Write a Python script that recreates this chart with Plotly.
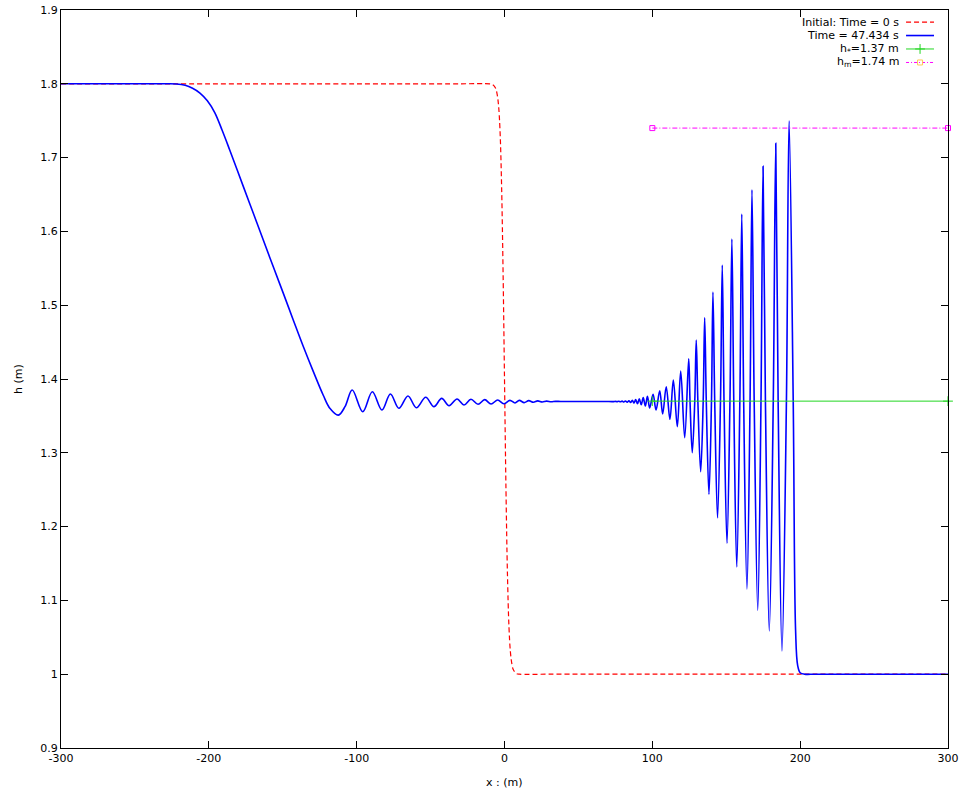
import plotly.graph_objects as go

# ---- data ----
red_x = [-300, -200, -100, -30, -10, -8, -6, -5, -4, -3, -2, -1, 0, 1, 2, 3, 4, 5, 6, 8,
         10, 30, 100, 200, 300]
red_h = [1.8, 1.8, 1.8, 1.8, 1.8, 1.799, 1.794, 1.786, 1.770, 1.735, 1.665, 1.550, 1.400,
         1.250, 1.135, 1.065, 1.030, 1.014, 1.006, 1.001, 1.0, 1.0, 1.0, 1.0, 1.0]

blue_x = [-300, -270, -245, -230, -222, -216, -211, -206, -201, -196,
          -191, -186, -176.7, -169.9, -163.1, -156.4, -149.6, -142.9, -136.1, -129.3,
          -122.6, -118.0, -112.4, -107.9, -103.0, -95.9, -89.4, -82.9, -77.2, -71.4,
          -65.3, -59.6, -53.3, -47.7, -42.5, -37.5, -32.1, -27.4, -22.7, -17.9,
          -13.4, -9.1, -4.6, -0.5, 3.7, 7.1, 10.0, 13.3, 16.4, 19.5,
          22.5, 25.5, 28.5, 31.5, 34.5, 38, 48, 58, 68, 73.8,
          74.95, 76.1, 77.25, 78.4, 79.55, 80.7, 81.85, 83.0, 84.15, 85.3,
          86.45, 87.6, 88.75, 89.95, 91.2, 92.5, 93.85, 95.25, 96.7, 98.2,
          100.5, 102.5, 105.0, 107.0, 109.4, 111.9, 114.2, 116.9, 119.2, 121.9,
          124.6, 125.5, 127.0, 128.7, 129.7, 130.8, 132.7, 134.4, 135.4, 136.5,
          138.3, 140.0, 141.0, 142.2, 144.1, 146.1, 147.3, 148.5, 150.5, 152.5,
          153.8, 155.1, 157.1, 159.2, 160.5, 161.8, 164.0, 166.1, 167.4, 168.9,
          171.3, 173.5, 174.9, 176.5, 179.1, 181.8, 183.5, 185.1, 187.7, 190.7,
          192.5, 195.3, 196.9, 198.3, 200.0, 203.0, 210, 230, 260, 300]
blue_h = [1.8, 1.8, 1.8, 1.8, 1.7998, 1.798, 1.794, 1.7875, 1.777, 1.761,
          1.737, 1.711, 1.661, 1.6245, 1.588, 1.552, 1.516, 1.480, 1.444, 1.410,
          1.378, 1.360, 1.351, 1.3625, 1.385, 1.3557, 1.3828, 1.358, 1.3797, 1.3603,
          1.377, 1.3611, 1.3752, 1.3625, 1.3738, 1.3638, 1.3729, 1.3648, 1.3725, 1.3657,
          1.372, 1.3661, 1.3715, 1.3665, 1.371, 1.3675, 1.371, 1.368, 1.3707, 1.3685,
          1.3703, 1.3688, 1.3700, 1.3691, 1.3697, 1.3695, 1.3695, 1.3695, 1.3695, 1.3694,
          1.3697, 1.3693, 1.3698, 1.3691, 1.3700, 1.3689, 1.3702, 1.3686, 1.3706, 1.3681,
          1.3712, 1.3674, 1.3721, 1.3664, 1.3732, 1.3651, 1.3747, 1.3635, 1.3765, 1.3607,
          1.3791, 1.3580, 1.3841, 1.3526, 1.3896, 1.3454, 1.3986, 1.3354, 1.4108, 1.3205,
          1.4275, 1.3695, 1.3001, 1.3695, 1.4528, 1.3695, 1.2744, 1.3695, 1.4831, 1.3695,
          1.2438, 1.3695, 1.5179, 1.3695, 1.2117, 1.3695, 1.5545, 1.3695, 1.1774, 1.3695,
          1.5897, 1.3695, 1.1453, 1.3695, 1.6236, 1.3695, 1.1154, 1.3695, 1.6565, 1.3695,
          1.0866, 1.3695, 1.6882, 1.3695, 1.0585, 1.3695, 1.7194, 1.3695, 1.0314, 1.3695,
          1.7500, 1.37, 1.06, 1.012, 1.002, 1.0, 1.0, 1.0, 1.0, 1.0]

hstar_x = [100, 300]
hstar_h = [1.37, 1.37]
hm_x = [100, 300]
hm_h = [1.74, 1.74]

legend_labels = ["Initial: Time = 0 s", "Time = 47.434 s",
                 "h<sub>*</sub>=1.37 m", "h<sub>m</sub>=1.74 m"]

x_ticks = [-300, -200, -100, 0, 100, 200, 300]
x_ticktext = ["-300", "-200", "-100", "0", "100", "200", "300"]
y_ticks = [0.9, 1.0, 1.1, 1.2, 1.3, 1.4, 1.5, 1.6, 1.7, 1.8, 1.9]
y_ticktext = ["0.9", "1", "1.1", "1.2", "1.3", "1.4", "1.5", "1.6", "1.7", "1.8", "1.9"]

RED = "#ff0000"
BLUE = "#0000ff"
GREEN = "#22d622"
MAG = "#ff00ff"
FONT = "DejaVu Sans"

fig = go.Figure()
fig.add_trace(go.Scatter(x=red_x, y=red_h, mode="lines",
                         line=dict(color=RED, width=1.2, dash="5px,3px", shape="spline"),
                         showlegend=False))
fig.add_trace(go.Scatter(x=blue_x, y=blue_h, mode="lines",
                         line=dict(color=BLUE, width=1.6, shape="spline"),
                         showlegend=False))
fig.add_trace(go.Scatter(x=hstar_x, y=hstar_h, mode="lines+markers",
                         line=dict(color=GREEN, width=1),
                         marker=dict(symbol="cross-thin", size=7,
                                     line=dict(color=GREEN, width=1)),
                         cliponaxis=False, showlegend=False))
fig.add_trace(go.Scatter(x=hm_x, y=hm_h, mode="lines+markers",
                         line=dict(color=MAG, width=1, dash="5px,2px,1px,2px"),
                         marker=dict(symbol="square-open", size=5,
                                     line=dict(color=MAG, width=1)),
                         cliponaxis=False, showlegend=False))

# ---- gnuplot-style key (text right, sample on the right) ----
rows_y = [0.9837, 0.9654, 0.9472, 0.9289]
sx0, sx1, smid = 0.9527, 0.9842, 0.9685
styles = [
    dict(line=dict(color=RED, width=1.2, dash="5px,3px"), mode="lines"),
    dict(line=dict(color=BLUE, width=1.6), mode="lines"),
    dict(line=dict(color=GREEN, width=1), mode="lines"),
    dict(line=dict(color=MAG, width=1, dash="3px,2px,1px,2px"), mode="lines"),
]
for ry, st in zip(rows_y, styles):
    fig.add_trace(go.Scatter(x=[sx0, sx1], y=[ry, ry], xaxis="x2", yaxis="y2",
                             showlegend=False, hoverinfo="skip", **st))
fig.add_trace(go.Scatter(x=[smid], y=[rows_y[2]], xaxis="x2", yaxis="y2", mode="markers",
                         marker=dict(symbol="cross-thin", size=7,
                                     line=dict(color=GREEN, width=1)),
                         showlegend=False, hoverinfo="skip"))
fig.add_trace(go.Scatter(x=[smid], y=[rows_y[3]], xaxis="x2", yaxis="y2", mode="markers",
                         marker=dict(symbol="square-open", size=5,
                                     line=dict(color=MAG, width=1)),
                         showlegend=False, hoverinfo="skip"))

annotations = []
for ry, lab in zip(rows_y, legend_labels):
    annotations.append(dict(x=0.947, y=ry, xref="paper", yref="paper", text=lab,
                            showarrow=False, xanchor="right", yanchor="middle",
                            font=dict(family=FONT, size=11, color="black")))
annotations.append(dict(x=0.5, y=0, xref="paper", yref="paper", text="x : (m)",
                        showarrow=False, xanchor="center", yanchor="middle", yshift=-34,
                        font=dict(family=FONT, size=11, color="black")))
annotations.append(dict(x=0, y=0.5, xref="paper", yref="paper", text="h (m)",
                        showarrow=False, xanchor="center", yanchor="middle", xshift=-43,
                        textangle=-90, font=dict(family=FONT, size=11, color="black")))

axis_common = dict(showline=True, linecolor="black", linewidth=1, mirror="ticks",
                   ticks="inside", ticklen=7, tickcolor="black", tickwidth=1,
                   showgrid=False, zeroline=False, automargin=False,
                   tickfont=dict(family=FONT, size=11, color="black"))

fig.update_layout(
    width=964, height=796,
    margin=dict(l=61, r=16, t=10, b=48, autoexpand=False),
    paper_bgcolor="white", plot_bgcolor="white",
    xaxis=dict(range=[-300, 300], tickvals=x_ticks, ticktext=x_ticktext, **axis_common),
    yaxis=dict(range=[0.9, 1.9], tickvals=y_ticks, ticktext=y_ticktext, **axis_common),
    xaxis2=dict(overlaying="x", range=[0, 1], visible=False),
    yaxis2=dict(overlaying="y", range=[0, 1], visible=False),
    annotations=annotations,
    showlegend=False,
)

fig.write_html("out.html", config={"displayModeBar": False},
               post_script="document.body.style.margin='0px';document.body.style.overflow='hidden';")
